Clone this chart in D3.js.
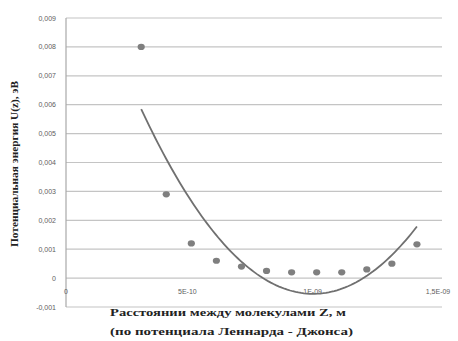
<!DOCTYPE html>
<html>
<head>
<meta charset="utf-8">
<script src="https://cdn.jsdelivr.net/npm/d3@7"></script>
<style>
  body { margin: 0; background: #fff; }
  svg { display: block; }
  .tick-lbl { font-family: "Liberation Sans", Arial, sans-serif; font-size: 7px; fill: #606060; }
  .ttl { font-family: "Liberation Serif", "Times New Roman", serif; font-weight: bold; fill: #222; }
</style>
</head>
<body>
<svg id="chart" width="458" height="341"></svg>
<script>
// DATA
var zValues = [3e-10, 4e-10, 5e-10, 6e-10, 7e-10, 8e-10, 9e-10, 1e-9, 1.1e-9, 1.2e-9, 1.3e-9, 1.4e-9];
var uValues = [0.0080, 0.0029, 0.0012, 0.0006, 0.0004, 0.00025, 0.0002, 0.0002, 0.0002, 0.0003, 0.0005, 0.00117];
var yTicks = [-0.001, 0, 0.001, 0.002, 0.003, 0.004, 0.005, 0.006, 0.007, 0.008, 0.009];
var yTickLabels = ['-0,001', '0', '0,001', '0,002', '0,003', '0,004', '0,005', '0,006', '0,007', '0,008', '0,009'];
var xTicks = [0, 5e-10, 1e-9, 1.5e-9];
var xTickLabels = ['0', '5E-10', '1E-09', '1,5E-09'];
var yTitle = 'Потенциальная энергия U(z), эВ';
var xTitle1 = 'Расстоянии между  молекулами Z, м';
var xTitle2 = '(по потенциала Леннарда - Джонса)';

var svg = d3.select('#chart');
var x = d3.scaleLinear().domain([0, 1.5e-9]).range([66, 442]);
var y = d3.scaleLinear().domain([-0.001, 0.009]).range([307, 18]);

// GRID
svg.append('g').selectAll('line')
  .data(yTicks)
  .enter().append('line')
  .attr('x1', x(0)).attr('x2', x(1.5e-9))
  .attr('y1', function(d) { return y(d); })
  .attr('y2', function(d) { return y(d); })
  .attr('stroke', '#c4c4c4').attr('stroke-width', 1.2);

svg.append('line')
  .attr('x1', x(0)).attr('x2', x(0))
  .attr('y1', y(0.009)).attr('y2', y(-0.001))
  .attr('stroke', '#a8a8a8').attr('stroke-width', 1.2);

// TICK LABELS
svg.append('g').selectAll('text')
  .data(yTicks)
  .enter().append('text')
  .attr('class', 'tick-lbl')
  .attr('x', 56)
  .attr('y', function(d) { return y(d) + 2.5; })
  .attr('text-anchor', 'end')
  .text(function(d, i) { return yTickLabels[i]; });

svg.append('g').selectAll('text')
  .data(xTicks)
  .enter().append('text')
  .attr('class', 'tick-lbl')
  .attr('x', function(d) { return x(d) - (d > 0 ? 4 : 0); })
  .attr('y', 294)
  .attr('text-anchor', 'middle')
  .text(function(d, i) { return xTickLabels[i]; });

// TREND (polynomial, order 2, least squares)
function quadFit(xs, ys) {
  var n = xs.length, s = [0, 0, 0, 0, 0], t = [0, 0, 0];
  for (var i = 0; i < n; i++) {
    var xi = xs[i] * 1e10;
    for (var k = 0; k < 5; k++) s[k] += Math.pow(xi, k);
    for (var k2 = 0; k2 < 3; k2++) t[k2] += ys[i] * Math.pow(xi, k2);
  }
  var m = [[s[0], s[1], s[2], t[0]], [s[1], s[2], s[3], t[1]], [s[2], s[3], s[4], t[2]]];
  for (var c = 0; c < 3; c++) {
    for (var r = c + 1; r < 3; r++) {
      var f = m[r][c] / m[c][c];
      for (var j = c; j < 4; j++) m[r][j] -= f * m[c][j];
    }
  }
  var co = [0, 0, 0];
  for (var r2 = 2; r2 >= 0; r2--) {
    var v = m[r2][3];
    for (var j2 = r2 + 1; j2 < 3; j2++) v -= m[r2][j2] * co[j2];
    co[r2] = v / m[r2][r2];
  }
  return function(z) { var u = z * 1e10; return co[0] + co[1] * u + co[2] * u * u; };
}
var fit = quadFit(zValues, uValues);
var zMin = d3.min(zValues), zMax = d3.max(zValues);
var trend = d3.range(0, 101).map(function(i) { return zMin + (zMax - zMin) * i / 100; });

svg.append('path')
  .datum(trend)
  .attr('fill', 'none')
  .attr('stroke', '#707070')
  .attr('stroke-width', 1.8)
  .attr('d', d3.line().x(function(d) { return x(d); }).y(function(d) { return y(fit(d)); }));

// POINTS
svg.append('g').selectAll('ellipse')
  .data(zValues)
  .enter().append('ellipse')
  .attr('cx', function(d) { return x(d); })
  .attr('cy', function(d, i) { return y(uValues[i]); })
  .attr('rx', 3.6).attr('ry', 3.1)
  .attr('fill', '#7f7f7f');

// TITLES
svg.append('text')
  .attr('class', 'ttl')
  .attr('transform', 'translate(18,164) rotate(-90)')
  .attr('text-anchor', 'middle')
  .attr('font-size', 10)
  .attr('textLength', 166)
  .attr('lengthAdjust', 'spacingAndGlyphs')
  .text(yTitle);

svg.append('text')
  .attr('class', 'ttl')
  .attr('x', 110).attr('y', 316)
  .attr('font-size', 11)
  .attr('textLength', 236)
  .attr('lengthAdjust', 'spacingAndGlyphs')
  .text(xTitle1);

svg.append('text')
  .attr('class', 'ttl')
  .attr('x', 110).attr('y', 335)
  .attr('font-size', 11)
  .attr('textLength', 243)
  .attr('lengthAdjust', 'spacingAndGlyphs')
  .text(xTitle2);
</script>
</body>
</html>
